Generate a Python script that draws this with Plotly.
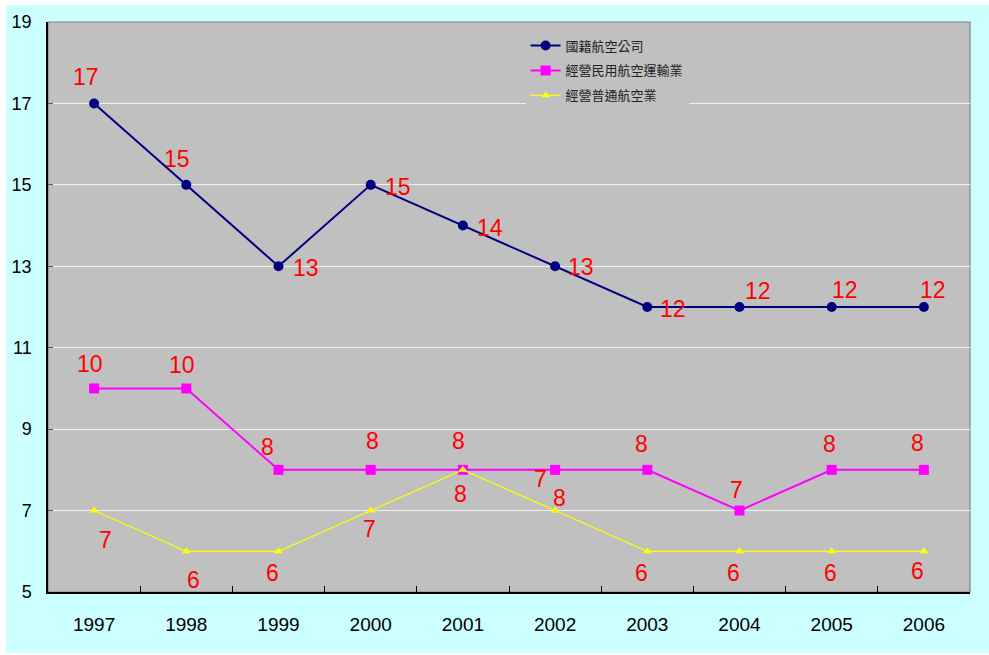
import plotly.graph_objects as go

years = ["1997", "1998", "1999", "2000", "2001", "2002", "2003", "2004", "2005", "2006"]
national_airlines = [17, 15, 13, 15, 14, 13, 12, 12, 12, 12]
civil_air_transport = [10, 10, 8, 8, 8, 8, 8, 7, 8, 8]
general_aviation = [7, 6, 6, 7, 8, 7, 6, 6, 6, 6]

names = ["國籍航空公司", "經營民用航空運輸業", "經營普通航空業"]

# label offsets in pixels (dx right, dy down) for each point
offs_nat = [(-8, -26), (-9, -26), (27, 2), (27, 2), (27, 2), (26, 1), (26, 2), (18, -16), (13, -17), (9, -17)]
offs_civ = [(-4, -24), (-4, -23), (-11, -23), (2, -29), (-4, -29), (4, 28), (-6, -26), (-3, -21), (-2, -26), (-6, -27)]
offs_gen = [(11, 29), (7, 29), (-6, 22), (-1, 18), (-2, 24), (-15, -32), (-6, 22), (-6, 22), (-1, 22), (-6, 20)]

fig = go.Figure()
fig.add_trace(go.Scatter(
    x=years, y=national_airlines, name=names[0], mode="lines+markers",
    line=dict(color="#000080", width=2),
    marker=dict(symbol="circle", size=10, color="#000080"),
    legendgroup="a"))
fig.add_trace(go.Scatter(
    x=years, y=civil_air_transport, name=names[1], mode="lines+markers",
    line=dict(color="#FF00FF", width=2),
    marker=dict(symbol="square", size=10, color="#FF00FF"),
    legendgroup="b"))
fig.add_trace(go.Scatter(
    x=years, y=general_aviation, name=names[2], mode="lines+markers",
    line=dict(color="#FFFF00", width=1.2),
    marker=dict(symbol="triangle-up", size=8, color="#FFFF00"),
    legendgroup="c"))

# value labels; x given as category index on the category axis
annotations = []
for vals, offs in ((national_airlines, offs_nat), (civil_air_transport, offs_civ), (general_aviation, offs_gen)):
    for i, (v, (dx, dy)) in enumerate(zip(vals, offs)):
        annotations.append(dict(
            x=i, y=v, xref="x", yref="y", text=str(v), showarrow=False,
            xshift=dx, yshift=-dy,
            font=dict(family="Liberation Sans, Arial, sans-serif", size=23, color="#FF0000")))

fig.update_layout(
    width=989, height=655,
    margin=dict(l=48, r=19, t=22, b=63),
    paper_bgcolor="#FFFFFF",
    plot_bgcolor="#C0C0C0",
    showlegend=True,
    legend=dict(
        x=0.518, y=0.985, xanchor="left", yanchor="top",
        bgcolor="#C0C0C0", borderwidth=0,
        font=dict(family="Noto Sans CJK TC", size=13, color="#222222"),
        tracegroupgap=5, itemwidth=30,
    ),
    annotations=annotations,
    shapes=[
        # light cyan chart area
        dict(type="rect", xref="paper", yref="paper",
             x0=-0.0456, x1=1.03, y0=-0.107, y1=1.0298,
             fillcolor="#CCFFFF", line=dict(width=0), layer="below"),
        # grey plot area with a thin grey frame
        dict(type="rect", xref="paper", yref="paper",
             x0=0, x1=1, y0=0, y1=1,
             fillcolor="#C0C0C0", line=dict(width=1.2, color="#808080"), layer="below"),
    ],
    xaxis=dict(
        type="category", range=[-0.5, 9.5],
        showgrid=False, showline=True, linecolor="#000000", linewidth=1.5,
        ticks="inside", tickson="boundaries", ticklen=6, tickcolor="#000000",
        ticklabelstandoff=14,
        tickfont=dict(family="Liberation Sans, Arial, sans-serif", size=19, color="#000000"),
        zeroline=False),
    yaxis=dict(
        range=[5, 19], dtick=2, tick0=5,
        showgrid=True, gridcolor="#F2F2F2", gridwidth=1,
        showline=True, linecolor="#000000", linewidth=1.5,
        ticks="inside", ticklen=5, tickcolor="#555555",
        ticklabelstandoff=11,
        tickfont=dict(family="Liberation Sans, Arial, sans-serif", size=18, color="#000000"),
        zeroline=False),
)

fig.write_html("out.html")
